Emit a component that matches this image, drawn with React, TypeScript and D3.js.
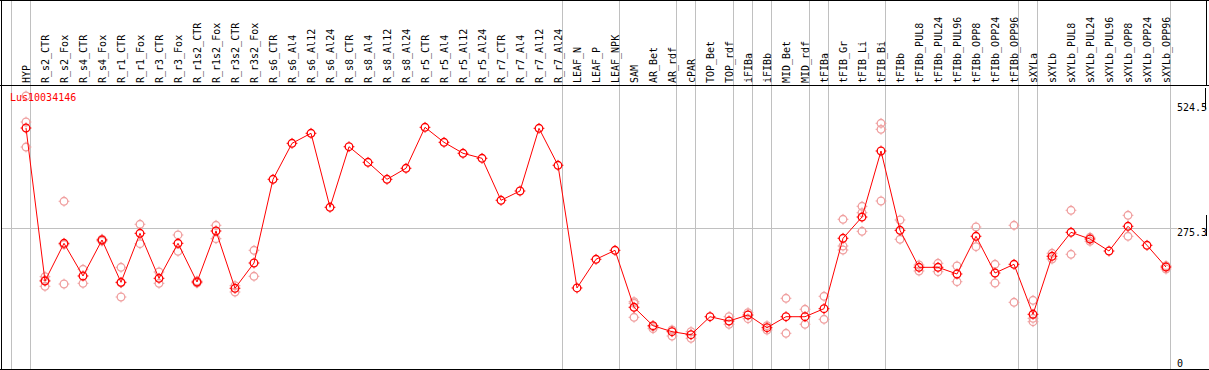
import React from "react";
import * as d3 from "d3";

const categories = [
  "HYP", "R_s2_CTR", "R_s2_Fox", "R_s4_CTR", "R_s4_Fox", "R_r1_CTR", "R_r1_Fox", "R_r3_CTR", "R_r3_Fox",
  "R_r1s2_CTR", "R_r1s2_Fox", "R_r3s2_CTR", "R_r3s2_Fox", "R_s6_CTR", "R_s6_Al4", "R_s6_Al12", "R_s6_Al24",
  "R_s8_CTR", "R_s8_Al4", "R_s8_Al12", "R_s8_Al24", "R_r5_CTR", "R_r5_Al4", "R_r5_Al12", "R_r5_Al24",
  "R_r7_CTR", "R_r7_Al4", "R_r7_Al12", "R_r7_Al24", "LEAF_N", "LEAF_P", "LEAF_NPK", "SAM", "AR_Bet", "AR_rdf",
  "cPAR", "TOP_Bet", "TOP_rdf", "iFIBa", "iFIBb", "MID_Bet", "MID_rdf", "tFIBa", "tFIB_Gr", "tFIB_Li", "tFIB_Bi",
  "tFIBb", "tFIBb_PUL8", "tFIBb_PUL24", "tFIBb_PUL96", "tFIBb_OPP8", "tFIBb_OPP24", "tFIBb_OPP96", "sXYLa",
  "sXYLb", "sXYLb_PUL8", "sXYLb_PUL24", "sXYLb_PUL96", "sXYLb_OPP8", "sXYLb_OPP24", "sXYLb_OPP96",
];

const means = [
  474.6, 169.5, 244.7, 179.5, 251.3, 166.9, 264.6, 174.9, 244.7, 167.5, 269.2, 155.0, 205.4,
  372.3, 444.1, 464.1, 316.5, 437.3, 406.2, 372.3, 394.3, 476.0, 446.1, 424.2, 414.2,
  330.5, 349.0, 474.0, 400.3, 155.6, 212.8, 230.7, 117.1, 80.4, 68.4, 62.4, 98.3, 89.7,
  101.7, 76.4, 98.3, 98.3, 114.3, 254.7, 297.1, 428.8, 270.6, 196.8, 196.8, 183.5, 258.7,
  185.5, 202.8, 103.1, 218.8, 266.6, 253.3, 229.3, 278.6, 240.7, 197.4,
];

const replicates: number[][] = [
  [538.5, 486.6, 436.7], [178.1, 158.9, 171.0], [328.5, 163.5, 242.0], [192.8, 164.9], [253.0, 249.0],
  [196.8, 137.6, 166.0], [282.6, 243.9], [187.5, 164.9], [261.3, 228.7], [169.5, 165.5],
  [280.6, 253.9], [160.1, 147.6], [230.7, 178.9],
  [], [], [], [], [], [], [], [], [], [], [], [], [], [], [], [], [], [], [],
  [128.2, 125.0, 97.1], [78.4, 74.4], [71.8, 59.8], [68.4, 55.2], [], [98.3, 83.2], [106.3, 94.3],
  [80.4, 71.8], [135.0, 65.2], [113.1, 83.2], [139.0, 93.1], [292.6, 239.3, 231.3],
  [318.5, 305.7, 268.6], [484.0, 472.0, 329.1], [291.2, 252.7], [201.4, 189.5], [204.8, 188.1],
  [199.4, 168.1], [277.2, 237.9], [202.8, 165.5], [280.6, 127.0], [131.0, 95.1, 88.3],
  [224.8, 213.4], [310.5, 222.8], [256.7, 248.7], [], [300.5, 258.7], [], [200.0, 193.4],
];

const groupBreaks = [0, 1, 29, 32, 35, 36, 38, 39, 40, 42, 43, 46, 53, 54, 61];
const yTicks = [0, 275.3, 524.5];
const yGrid = [275.3];
const title = "Lus10034146";

const W = 1209;
const H = 370;
const FONT = "'DejaVu Sans Mono', monospace";

function Marker({ cx, cy, color }: { cx: number; cy: number; color: string }) {
  const r = 3.8;
  const s = 1.6;
  return (
    <g stroke={color} fill="none">
      <circle cx={cx} cy={cy} r={r} strokeWidth={1.3} />
      <line x1={cx} x2={cx} y1={cy - r - s} y2={cy - r} strokeWidth={1} />
      <line x1={cx} x2={cx} y1={cy + r} y2={cy + r + s} strokeWidth={1} />
      <line x1={cx - r - s} x2={cx - r} y1={cy} y2={cy} strokeWidth={1} />
      <line x1={cx + r} x2={cx + r + s} y1={cy} y2={cy} strokeWidth={1} />
    </g>
  );
}

export default function App() {
  const x = d3.scaleBand<string>().domain(categories).range([11, 11 + 19 * categories.length]).padding(0);
  const xb = d3.scaleLinear().domain([0, categories.length]).range([11, 11 + 19 * categories.length]);
  const px = (c: string) => (x(c) as number) + 15;
  const y = d3.scaleLinear().domain([0, 524.5]).range([366, 103]);
  const headerY = 85;
  const plotBottom = 369;

  const line = d3
    .line<number>()
    .x((_, i) => px(categories[i]))
    .y((d) => y(d));

  return (
    <svg
      width={W}
      height={H}
      style={{ position: "absolute", left: 0, top: 0, background: "#fff" }}
      fontFamily={FONT}
    >
      <rect x={0} y={0} width={W} height={H} fill="#fff" />
      {groupBreaks.map((k) => (
        <line key={"g" + k} x1={xb(k) + 0.5} x2={xb(k) + 0.5} y1={0} y2={plotBottom} stroke="#c0c0c0" strokeWidth={1} />
      ))}
      {yGrid.map((v) => (
        <line key={"h" + v} x1={1} x2={1177} y1={Math.round(y(v)) + 0.5} y2={Math.round(y(v)) + 0.5} stroke="#c0c0c0" strokeWidth={1} />
      ))}
      {/* frame */}
      <line x1={0} x2={W} y1={0.5} y2={0.5} stroke="#000" />
      <line x1={0} x2={W} y1={headerY + 0.5} y2={headerY + 0.5} stroke="#000" />
      <line x1={0} x2={W} y1={plotBottom + 0.5} y2={plotBottom + 0.5} stroke="#000" />
      <line x1={1.5} x2={1.5} y1={0} y2={H} stroke="#000" />
      <line x1={1206.5} x2={1206.5} y1={0} y2={headerY} stroke="#000" />
      <line x1={1205.5} x2={1205.5} y1={88} y2={109} stroke="#000" />
      <line x1={1206.5} x2={1206.5} y1={215} y2={236} stroke="#000" />
      {/* category labels */}
      {categories.map((c) => (
        <text
          key={"l" + c}
          transform={`translate(${px(c) + 3.5},83) rotate(-90)`}
          fontSize={10}
          fill="#000"
        >
          {c}
        </text>
      ))}
      {/* y labels */}
      {yTicks.map((v) => (
        <text key={"t" + v} x={1177} y={Math.min(y(v), 359) + 8} fontSize={10} fill="#000">
          {String(v)}
        </text>
      ))}
      {/* replicates */}
      {replicates.map((reps, i) =>
        reps.map((v, j) => <Marker key={`r${i}-${j}`} cx={px(categories[i])} cy={y(v)} color="#f0a0a0" />)
      )}
      <path d={line(means) || ""} fill="none" stroke="#ff0000" strokeWidth={1} />
      {means.map((v, i) => (
        <Marker key={"m" + i} cx={px(categories[i])} cy={y(v)} color="#ff0000" />
      ))}
      <text x={10} y={101} fontSize={10} fill="#ff0000">
        {title}
      </text>
    </svg>
  );
}
